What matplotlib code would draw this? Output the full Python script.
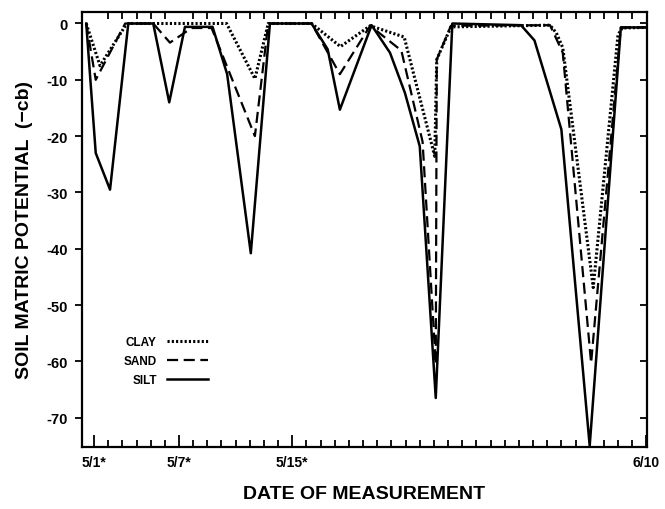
import matplotlib
matplotlib.use("Agg")
import matplotlib.pyplot as plt
from matplotlib.ticker import FixedLocator, MultipleLocator

plt.rcParams['font.family'] = ['Liberation Sans', 'DejaVu Sans']
plt.rcParams['font.weight'] = 'bold'
plt.rcParams['axes.labelweight'] = 'bold'

# Datos (dia: 5/1 = 1)
clay_day = [0.45, 1.42, 3.19, 3.45, 10.36, 12.36, 13.3, 16.36, 18.4, 20.5,
            22.9, 25.06, 25.2, 26.2, 33.2, 33.65, 34.1, 36.25, 38.0, 38.3, 40.05]
clay_val = [0, -7.5, -0.5, 0, 0, -9.8, 0, 0, -4.1, -0.4,
            -2.4, -23.6, -6.4, -0.6, -0.3, -1.7, -4.3, -46.9, -2.0, -0.8, -0.7]

sand_day = [0.45, 1.12, 3.2, 5.18, 6.36, 7.89, 9.3, 12.36, 13.3, 16.36, 18.36,
            20.5, 22.7, 24.2, 25.13, 25.2, 26.2, 33.2, 34.1, 36.1, 38.2, 40.05]
sand_val = [0, -10, 0, 0, -3.4, -0.8, -0.8, -20, 0, 0, -9,
            -0.4, -4.8, -21, -60.5, -6.4, -0.4, -0.3, -5.2, -60.3, -0.7, -0.7]

silt_day = [0.45, 1.12, 2.13, 3.42, 5.18, 6.31, 7.42, 9.37, 10.4, 12.07, 13.42,
            16.36, 17.5, 18.36, 20.6, 21.9, 22.95, 24.0, 25.13, 26.3, 31.15,
            32.1, 34.0, 36.0, 38.2, 40.05]
silt_val = [0, -23, -29.5, 0, 0, -14, -0.6, -0.6, -9, -40.8, 0,
            0, -4.6, -15.3, -0.3, -5.2, -12.3, -21.8, -66.5, 0, -0.3,
            -3, -18.8, -75, -0.7, -0.7]

tick_days = [1, 7, 15, 40]
tick_labels = ['5/1*', '5/7*', '5/15*', '6/10']
y_ticks = [0, -10, -20, -30, -40, -50, -60, -70]

fig = plt.figure(figsize=(6.65, 5.10), dpi=100)
ax = fig.add_axes([0.1233, 0.1216, 0.8497, 0.853])

ax.plot(clay_day, clay_val, color='black', lw=2.2, linestyle=(0, (0.7, 0.7)), label='CLAY')
ax.plot(sand_day, sand_val, color='black', lw=1.6, linestyle=(0, (5, 2.5)), label='SAND')
ax.plot(silt_day, silt_val, color='black', lw=1.8, label='SILT')

ax.set_xlim(0.15, 40.05)
ax.set_ylim(-75.2, 2.05)

ax.xaxis.set_major_locator(FixedLocator(tick_days))
ax.xaxis.set_minor_locator(MultipleLocator(1))
ax.set_xticklabels(tick_labels)
ax.set_yticks(y_ticks)
ax.set_yticklabels([str(v) for v in y_ticks])

ax.tick_params(axis='x', which='major', direction='in', length=9, width=1.3,
               top=False, labelsize=10, pad=6)
ax.tick_params(axis='x', which='minor', direction='in', length=5, width=1.3,
               top=True, bottom=True)
ax.tick_params(axis='y', which='major', direction='out', length=5, width=1.3,
               labelsize=10.5, pad=5)
ax.tick_params(axis='y', which='major', right=True)
for t in ax.yaxis.get_major_ticks():
    t.tick2line.set_marker(matplotlib.lines.TICKLEFT)

for s in ax.spines.values():
    s.set_linewidth(1.6)

ax.set_xlabel('DATE OF MEASUREMENT', fontsize=14, labelpad=11)
ax.set_ylabel('SOIL MATRIC POTENTIAL  (\u2212cb)', fontsize=14, labelpad=10)

leg = ax.legend(loc='lower left', bbox_to_anchor=(0.055, 0.115), frameon=False,
                markerfirst=False, fontsize=8.5, handlelength=3.4,
                labelspacing=0.6, handletextpad=0.9)

fig.savefig('out.png', dpi=100)
